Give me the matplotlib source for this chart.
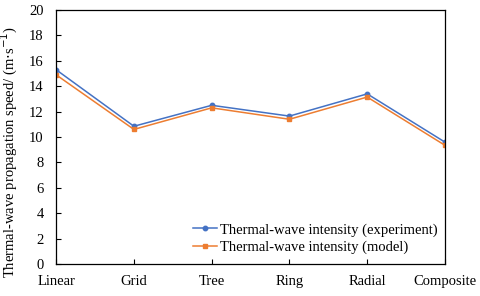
import matplotlib
matplotlib.use("Agg")
import matplotlib.pyplot as plt

categories = ["Linear", "Grid", "Tree", "Ring", "Radial", "Composite"]
experiment = [15.3, 10.85, 12.5, 11.65, 13.4, 9.6]
model = [14.9, 10.6, 12.3, 11.4, 13.15, 9.35]
yticks = [0, 2, 4, 6, 8, 10, 12, 14, 16, 18, 20]

plt.rcParams['font.family'] = ['Liberation Serif', 'DejaVu Serif']

fig = plt.figure(figsize=(4.8, 2.96), dpi=100)
ax = fig.add_axes([0.117, 0.108, 0.81, 0.858])

x = list(range(len(categories)))
ax.plot(x, experiment, color='#4472C4', marker='o', markersize=3.2, linewidth=1.1,
        label='Thermal-wave intensity (experiment)')
ax.plot(x, model, color='#ED7D31', marker='s', markersize=2.8, linewidth=1.1,
        label='Thermal-wave intensity (model)')

ax.set_xlim(0, len(categories) - 1)
ax.set_ylim(0, 20)
ax.set_xticks(x)
ax.set_xticklabels(categories, fontsize=10.5)
ax.set_yticks(yticks)
ax.set_yticklabels([str(v) for v in yticks], fontsize=10.5)
ax.tick_params(direction='in', length=3.5, width=0.8)
ax.tick_params(axis='y', pad=9)
ax.tick_params(axis='x', pad=8)
for s in ax.spines.values():
    s.set_linewidth(0.9)
ax.set_ylabel("Thermal-wave propagation speed/ (m$\\cdot$s$^{-1}$)", fontsize=10.5)
ax.yaxis.set_label_coords(-0.092, 0.44)

ax.legend(loc='lower right', frameon=False, fontsize=10.5, handlelength=1.6,
          handletextpad=0.25, borderaxespad=0.0, labelspacing=0.3,
          bbox_to_anchor=(0.997, 0.015))

fig.savefig("out.png", dpi=100)
